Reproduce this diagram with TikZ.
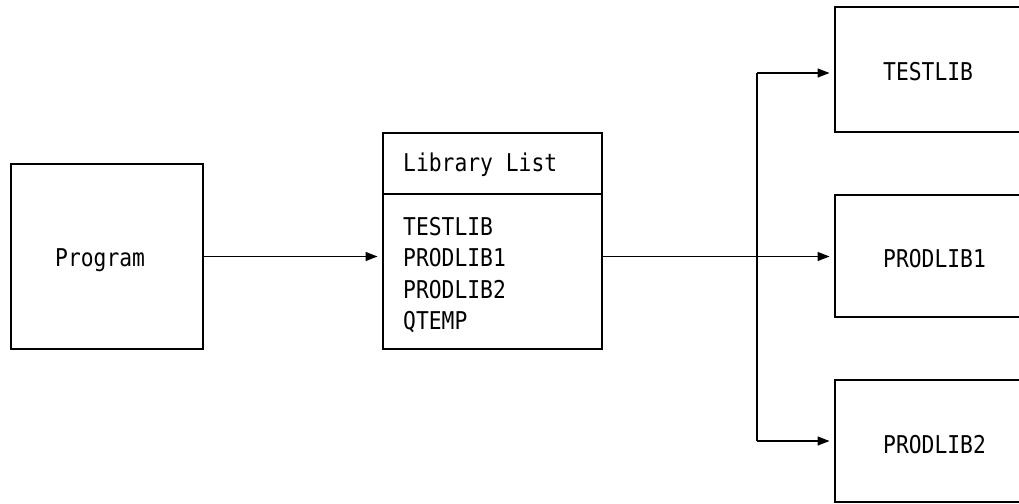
\documentclass[tikz,border=0pt]{standalone}
\usepackage{fontspec}
\newfontfamily\libfont[FakeStretch=0.87]{DejaVu Sans Mono}
\usetikzlibrary{arrows.meta}
\begin{document}
\begin{tikzpicture}[x=1pt,y=-1pt,
  box/.style={draw, line width=1.8pt, inner sep=0pt, outer sep=0pt},
  rule/.style={line width=1.8pt},
  lbl/.style={font=\libfont\fontsize{24.5}{31}\selectfont, inner sep=0pt, anchor=base west},
  wire/.style={line width=1.5pt},
  link/.style={line width=1.5pt, -{Triangle[length=12pt,width=9pt]}, shorten >=5.5pt}]
\useasboundingbox (0,0) rectangle (1019,503);
\clip (0,0) rectangle (1019,503);

% calling program
\node[box, minimum width=192pt, minimum height=185pt] (prog) at (107,256.5) {};
\node[lbl] (progtext) at (55,266) {Program};

% library list with its heading compartment
\node[box, minimum width=219pt, minimum height=216pt] (lib) at (492.5,241) {};
\draw[rule] ([yshift=-61pt]lib.north west) -- ([yshift=-61pt]lib.north east);
\node[lbl] (libhead) at (403,171) {Library List};
\node[lbl] (e1) at (403,235) {TESTLIB};
\node[lbl] (e2) at (403,266.5) {PRODLIB1};
\node[lbl] (e3) at (403,298) {PRODLIB2};
\node[lbl] (e4) at (403,329.5) {QTEMP};

% libraries searched in order
\node[box, minimum width=205pt, minimum height=125pt] (tl) at (937.5,69.5) {};
\node[lbl] (tltext) at (883,80) {TESTLIB};
\node[box, minimum width=205pt, minimum height=122pt] (p1) at (937.5,256) {};
\node[lbl] (p1text) at (883,267) {PRODLIB1};
\node[box, minimum width=205pt, minimum height=122pt] (p2) at (937.5,441) {};
\node[lbl] (p2text) at (883,453) {PRODLIB2};

% connectors
\coordinate (split) at (757,256.5);
\coordinate (top) at (757,73);
\coordinate (bot) at (757,441);
\draw[link] (prog.east) -- (prog.east -| lib.west);
\draw[wire] (prog.east -| lib.east) -- (split);
\draw[wire] (top) -- (bot);
\draw[link] (top) -- (top -| tl.west);
\draw[link] (split) -- (split -| p1.west);
\draw[link] (bot) -- (bot -| p2.west);
\end{tikzpicture}
\end{document}
